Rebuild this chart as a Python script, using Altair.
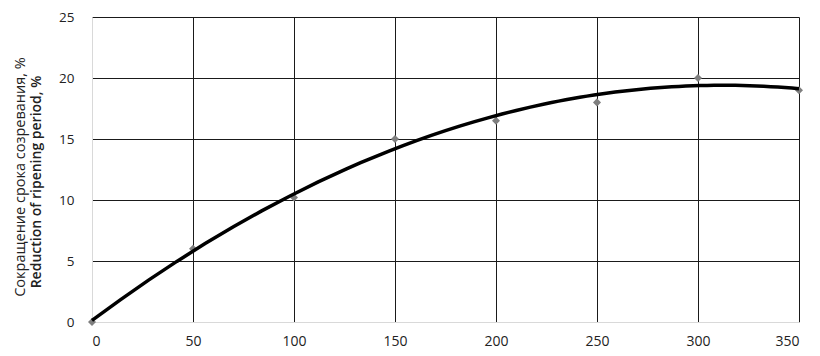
import altair as alt
import pandas as pd

x_vals = [0, 50, 100, 150, 200, 250, 300, 350]
y_vals = [0, 6.0, 10.2, 15.0, 16.5, 18.0, 20.0, 19.0]
title_ru = "Сокращение срока созревания, %"
title_en = "Reduction of ripening period, %"

df = pd.DataFrame({"x": x_vals, "y": y_vals})

FONT = "Open Sans"
grid_color = {"condition": {"test": "datum.value === 0", "value": "#d9d9d9"}, "value": "#1a1a1a"}

xs = alt.Scale(domain=[0, 350], nice=False, zero=True)
ys = alt.Scale(domain=[0, 25], nice=False)

x_axis = alt.Axis(values=[0, 50, 100, 150, 200, 250, 300, 350], grid=True, gridColor=grid_color,
                  ticks=False, domainColor="#d9d9d9", labelPadding=12, labelFontSize=14,
                  labelFont=FONT, labelColor="#222", title=None)
y_axis = alt.Axis(values=[0, 5, 10, 15, 20, 25], grid=True, gridColor=grid_color,
                  ticks=False, domainColor="#d9d9d9", labelPadding=18, labelFontSize=13.5,
                  labelFont=FONT, labelColor="#222", title=None)

base = alt.Chart(df)

pts = base.mark_point(shape="diamond", filled=True, color="#7f7f7f", size=65, opacity=1).encode(
    x=alt.X("x:Q", scale=xs, axis=x_axis),
    y=alt.Y("y:Q", scale=ys, axis=y_axis),
)

trend = base.transform_regression("x", "y", method="poly", order=2, extent=[0, 350]).mark_line(
    color="black", strokeWidth=3.5
).encode(x=alt.X("x:Q", scale=xs), y=alt.Y("y:Q", scale=ys))

t1 = alt.Chart(pd.DataFrame({"t": [title_ru]})).mark_text(
    angle=270, font=FONT, fontSize=14.5, color="#222", baseline="middle", align="center"
).encode(text="t:N", x=alt.value(-71), y=alt.value(160))

t2 = alt.Chart(pd.DataFrame({"t": [title_en]})).mark_text(
    angle=270, font=FONT, fontSize=14, fontWeight=600, color="#222", baseline="middle", align="center"
).encode(text="t:N", x=alt.value(-55), y=alt.value(165))

chart = alt.layer(pts, trend, t1, t2).properties(
    width=707, height=305,
    autosize=alt.AutoSizeParams(type="none"),
    padding={"left": 84, "top": 9, "right": 10, "bottom": 26},
    background="white",
).configure_view(stroke=None)

chart.save("out.html", embed_options={"renderer": "svg", "actions": False})
